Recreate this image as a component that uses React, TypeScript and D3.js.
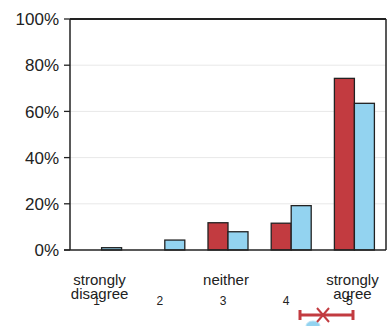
import React from "react";
import * as d3 from "d3";

const categories = ["1", "2", "3", "4", "5"];
const categoryLabels = [["strongly", "disagree"], [], ["neither"], [], ["strongly", "agree"]];
const redValues = [0, 0, 11.8, 11.6, 74.3];
const blueValues = [1, 4.3, 7.9, 19.2, 63.5];
const yTicks = [0, 20, 40, 60, 80, 100];

const W = 389;
const H = 326;
const left = 70;
const right = 386;
const top = 19;
const bottom = 250;

const RED = "#c23b40";
const BLUE = "#93d3f0";
const FONT = "'Liberation Sans', Arial, sans-serif";

export default function App() {
  const x = d3.scaleBand<string>().domain(categories).range([left, right]).paddingInner(0).paddingOuter(0);
  const y = d3.scaleLinear().domain([0, 100]).range([bottom, top]);
  const bw = 20;

  return (
    <svg width={W} height={H} style={{ position: "absolute", left: 0, top: 0, background: "#fff" }}>
      {/* faint gridlines */}
      {yTicks.filter(t => t > 0 && t < 100).map(t => (
        <line key={"g" + t} x1={left} x2={right} y1={y(t)} y2={y(t)} stroke="#e8e8e8" strokeWidth={1} />
      ))}
      {/* bars */}
      {categories.map((c, i) => {
        const cx = (x(c) as number) + x.bandwidth() / 2;
        return (
          <g key={c}>
            {redValues[i] > 0 && (
              <rect x={cx - bw} y={y(redValues[i])} width={bw} height={bottom - y(redValues[i])}
                fill={RED} stroke="#222" strokeWidth={1.3} />
            )}
            {blueValues[i] > 0 && (
              <rect x={cx} y={y(blueValues[i])} width={bw} height={bottom - y(blueValues[i])}
                fill={BLUE} stroke="#222" strokeWidth={1.3} />
            )}
          </g>
        );
      })}
      {/* frame */}
      <line x1={left} x2={right} y1={top} y2={top} stroke="#222" strokeWidth={2} />
      <line x1={right} x2={right} y1={top} y2={bottom} stroke="#222" strokeWidth={1.5} />
      <line x1={left} x2={left} y1={top} y2={bottom} stroke="#222" strokeWidth={1.5} />
      <line x1={left - 6} x2={right} y1={bottom} y2={bottom} stroke="#222" strokeWidth={1.5} />
      {/* y ticks */}
      {yTicks.map(t => (
        <g key={"t" + t}>
          <line x1={left - 6} x2={left} y1={y(t)} y2={y(t)} stroke="#222" strokeWidth={1.3} />
          <text x={left - 11} y={y(t)} dy="0.36em" textAnchor="end" fontFamily={FONT} fontSize={17} fill="#222">
            {t + "%"}
          </text>
        </g>
      ))}
      {/* x labels */}
      {categories.map((c, i) => {
        const cx = (x(c) as number) + x.bandwidth() / 2;
        return (
          <g key={"l" + c}>
            {categoryLabels[i].map((s, j) => (
              <text key={j} x={cx - 2} y={285 + j * 13.5} textAnchor="middle" fontFamily={FONT} fontSize={15} fill="#222">
                {s}
              </text>
            ))}
            <text x={cx - 5} y={305} textAnchor="middle" fontFamily={FONT} fontSize={12} fill="#222">{c}</text>
          </g>
        );
      })}
      {/* partial legend marks at bottom */}
      <ellipse cx={313} cy={326} rx={7} ry={5} fill={BLUE} stroke="#bfe4f5" strokeWidth={1} />
      <line x1={300} x2={353} y1={315} y2={315} stroke={RED} strokeWidth={3} />
      <line x1={300} x2={300} y1={310} y2={320} stroke={RED} strokeWidth={3} />
      <line x1={353} x2={353} y1={310} y2={320} stroke={RED} strokeWidth={3} />
      <line x1={317} x2={329} y1={308} y2={322} stroke={RED} strokeWidth={2} />
      <line x1={329} x2={317} y1={308} y2={322} stroke={RED} strokeWidth={2} />
    </svg>
  );
}
